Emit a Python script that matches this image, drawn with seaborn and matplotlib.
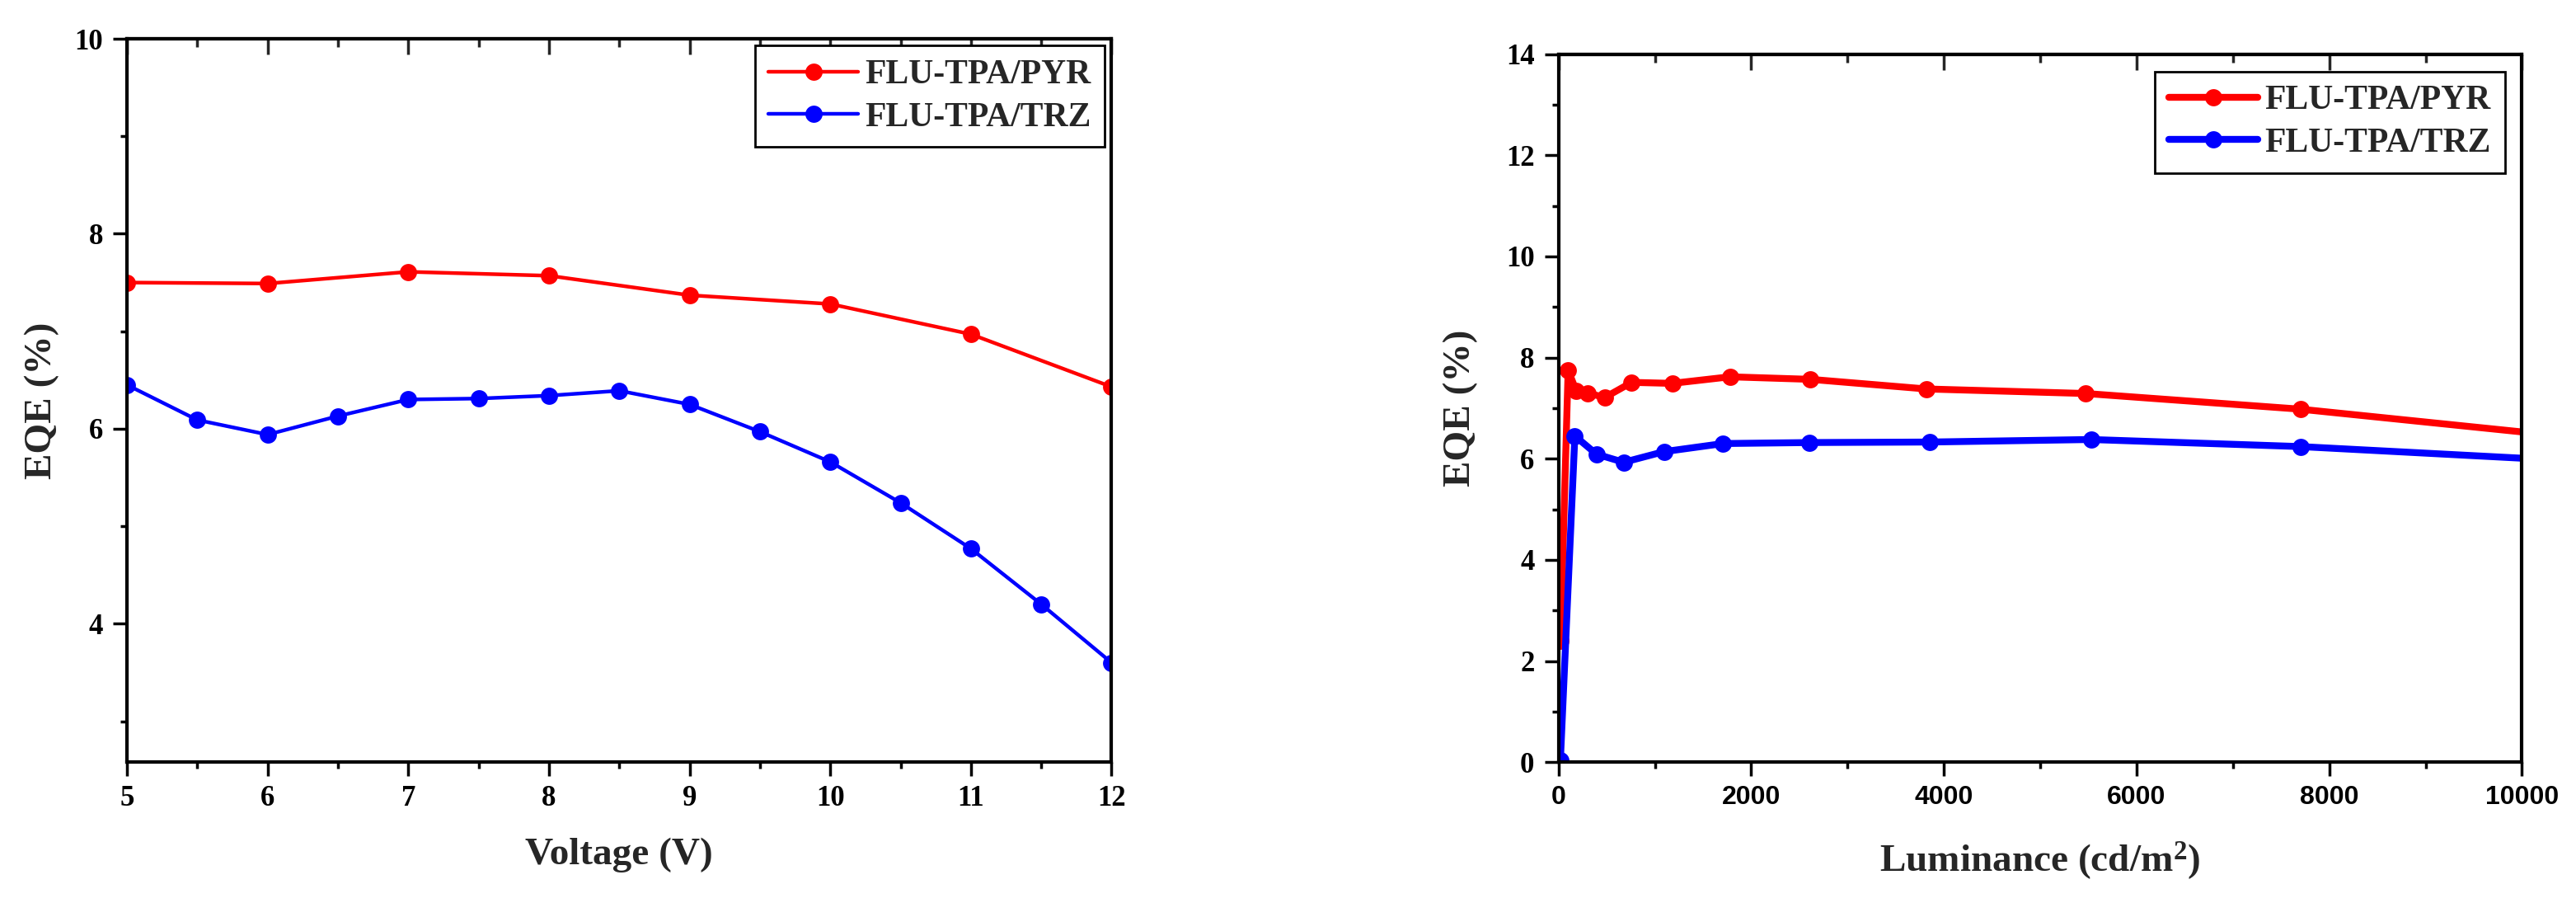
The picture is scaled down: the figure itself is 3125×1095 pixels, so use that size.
import numpy as np
import pandas as pd
import matplotlib
matplotlib.use("Agg")
import matplotlib.pyplot as plt
from matplotlib.ticker import MultipleLocator
import seaborn as sns

# ── Dados ─────────────────────────────────────────────────────────────────────
NAMES = ["FLU-TPA/PYR", "FLU-TPA/TRZ"]
COLORS = {"FLU-TPA/PYR": "#FF0000", "FLU-TPA/TRZ": "#0000FF"}

volt_pyr = [5, 6, 7, 8, 9, 10, 11, 12]
eqe_v_pyr = [7.50, 7.49, 7.61, 7.57, 7.37, 7.28, 6.97, 6.43]
volt_trz = [5, 5.5, 6, 6.5, 7, 7.5, 8, 8.5, 9, 9.5, 10, 10.5, 11, 11.5, 12]
eqe_v_trz = [6.45, 6.09, 5.94, 6.13, 6.30, 6.31, 6.34, 6.39, 6.25, 5.97,
             5.66, 5.24, 4.77, 4.20, 3.60]

lum_pyr = [20, 100, 185, 305, 480, 760, 1180, 1780, 2615, 3815, 5470, 7700, 10000]
eqe_l_pyr = [2.40, 7.75, 7.34, 7.30, 7.21, 7.51, 7.49, 7.62, 7.57, 7.38, 7.29, 6.98, 6.53]
lum_trz = [20, 170, 395, 677, 1095, 1708, 2605, 3850, 5528, 7703, 10000]
eqe_l_trz = [0.04, 6.45, 6.09, 5.93, 6.14, 6.30, 6.32, 6.33, 6.38, 6.24, 6.01]

dv = pd.concat([
    pd.DataFrame({"x": volt_pyr, "y": eqe_v_pyr, "s": NAMES[0]}),
    pd.DataFrame({"x": volt_trz, "y": eqe_v_trz, "s": NAMES[1]}),
], ignore_index=True)

sns.set_style("ticks")
plt.rcParams["font.family"] = ["Liberation Serif", "DejaVu Serif"]
plt.rcParams["font.weight"] = "bold"
plt.rcParams["axes.labelweight"] = "bold"
plt.rcParams["mathtext.fontset"] = "custom"
plt.rcParams["mathtext.rm"] = "Liberation Serif:bold"
plt.rcParams["mathtext.default"] = "rm"

fig = plt.figure(figsize=(31.25, 10.95), dpi=100)
axL = fig.add_axes([0.0493, 0.156, 0.3822, 0.801])
axR = fig.add_axes([0.605, 0.156, 0.374, 0.784])


def style(ax, xmaj, xmin, ymaj, ymin, xfam="Liberation Serif", xsize=25):
    for sp in ax.spines.values():
        sp.set_linewidth(3)
        sp.set_color("black")
    ax.xaxis.set_major_locator(MultipleLocator(xmaj))
    ax.xaxis.set_minor_locator(MultipleLocator(xmin))
    ax.yaxis.set_major_locator(MultipleLocator(ymaj))
    ax.yaxis.set_minor_locator(MultipleLocator(ymin))
    ax.tick_params(which="both", direction="out", width=2.5, colors="black",
                   top=False, right=False, labelsize=25)
    ax.tick_params(which="major", length=12)
    ax.tick_params(which="minor", length=6)
    ax.tick_params(axis="x", pad=8)
    ax.tick_params(axis="y", pad=9)
    for t in ax.get_yticklabels():
        t.set_fontweight("bold")
    for t in ax.get_xticklabels():
        t.set_fontweight("bold")
        t.set_fontfamily(xfam)
        t.set_fontsize(xsize)
    sec = ax.secondary_xaxis("top")
    sec.xaxis.set_major_locator(MultipleLocator(xmaj))
    sec.xaxis.set_minor_locator(MultipleLocator(xmin))
    sec.tick_params(which="both", direction="in", width=2.5, labeltop=False)
    sec.tick_params(which="major", length=14)
    sec.tick_params(which="minor", length=7)
    sec.spines["top"].set_linewidth(3)


def legend(ax, pad):
    leg = ax.legend(loc="upper right", frameon=True, fancybox=False,
                    edgecolor="black", framealpha=1, fontsize=30,
                    handlelength=2.6, borderpad=0.4, labelspacing=0.32,
                    handletextpad=0.2, borderaxespad=pad)
    leg.get_frame().set_linewidth(2)
    for t in leg.get_texts():
        t.set_fontweight("bold")


# ── Painel esquerdo: EQE x tensão ─────────────────────────────────────────────
sns.lineplot(data=dv, x="x", y="y", hue="s", palette=COLORS, marker="o",
             markersize=15, markeredgewidth=0, linewidth=3.2, sort=False,
             ax=axL)
axL.set_xlim(5, 12)
axL.set_ylim(2.58, 10)
style(axL, 1, 0.5, 2, 1)
axL.set_xlabel("Voltage (V)", fontsize=34, fontweight="bold", labelpad=22)
axL.set_ylabel("EQE (%)", fontsize=34, fontweight="bold", labelpad=13)
legend(axL, 0.2)

# ── Painel direito: EQE x luminância ──────────────────────────────────────────
for name, xs, ys in [(NAMES[0], lum_pyr, eqe_l_pyr), (NAMES[1], lum_trz, eqe_l_trz)]:
    d = pd.DataFrame({"x": xs, "y": ys, "s": name})
    sns.lineplot(data=d, x="x", y="y", hue="s", palette=COLORS, marker="o",
                 markersize=15, markeredgewidth=0, linewidth=6, sort=False,
                 markevery=list(range(len(xs) - 1)), ax=axR)
axR.set_xlim(0, 10000)
axR.set_ylim(0, 14)
style(axR, 2000, 1000, 2, 1, xfam="Liberation Sans", xsize=23)
axR.set_xlabel("Luminance (cd/m$^2$)", fontsize=34, fontweight="bold", labelpad=26)
axR.set_ylabel("EQE (%)", fontsize=34, fontweight="bold", labelpad=24)
legend(axR, 0.5)

fig.savefig("out.png", dpi=100, facecolor="white")
